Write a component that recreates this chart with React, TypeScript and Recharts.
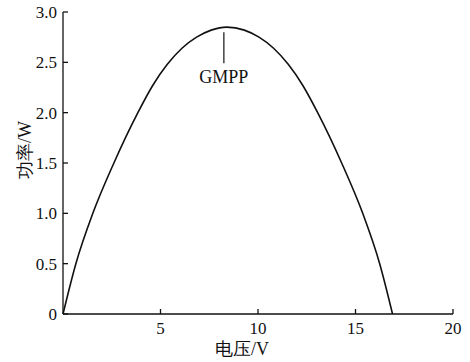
import React from "react"
import {
  LineChart,
  Line,
  XAxis,
  YAxis,
  ReferenceLine,
  Label,
} from "recharts"

// P-V curve
const voltage = [0, 0.66, 1.53, 2.61, 3.84, 4.6, 5.35, 6.1, 6.85, 7.6, 8.4, 9.3, 10.05, 10.8, 11.55, 12.3, 13.06, 14.29, 15.37, 16.24, 16.9]
const power = [0, 0.5, 1.0, 1.5, 2.0, 2.27, 2.48, 2.64, 2.75, 2.82, 2.85, 2.82, 2.75, 2.64, 2.48, 2.27, 2.0, 1.5, 1.0, 0.5, 0]

const xTicks = [5, 10, 15, 20]
const yTicks = [0, 0.5, 1.0, 1.5, 2.0, 2.5, 3.0]

// GMPP marker
const gmppV = 8.25
const gmppTop = 2.8
const gmppBottom = 2.49

const data = voltage.map((v, i) => ({ v, p: power[i] }))

const FONT = "'Liberation Serif', 'Times New Roman', serif"
const INK = "#111"

export default function App() {
  return (
    <div style={{ position: "absolute", left: 0, top: 0, background: "#fff" }}>
      <LineChart
        width={470}
        height={362}
        data={data}
        margin={{ top: 12, right: 17, left: 0, bottom: 0 }}
      >
        <XAxis
          dataKey="v"
          type="number"
          domain={[0, 20]}
          ticks={xTicks}
          height={48}
          stroke={INK}
          strokeWidth={1.3}
          tickSize={-5}
          tickMargin={13}
          tick={{ fill: INK, fontSize: 17, fontFamily: FONT }}
        >
          <Label
            content={({ viewBox }: any) => (
              <text
                x={viewBox.x + viewBox.width / 2 - 16}
                y={viewBox.y + 41}
                textAnchor="middle"
                fontSize={18}
                fontFamily={FONT}
                fill={INK}
              >
                电压/V
              </text>
            )}
          />
        </XAxis>
        <YAxis
          type="number"
          domain={[0, 3]}
          ticks={yTicks}
          width={63}
          stroke={INK}
          strokeWidth={1.3}
          tickSize={-5}
          tickMargin={11}
          tickFormatter={(t: number) => (t === 0 ? "0" : t.toFixed(1))}
          tick={{ fill: INK, fontSize: 17, fontFamily: FONT }}
        >
          <Label
            content={({ viewBox }: any) => {
              const cx = viewBox.x + 25
              const cy = viewBox.y + viewBox.height / 2 - 13
              return (
                <text
                  x={cx}
                  y={cy}
                  transform={`rotate(-90, ${cx}, ${cy})`}
                  textAnchor="middle"
                  dominantBaseline="central"
                  fontSize={18}
                  fontFamily={FONT}
                  fill={INK}
                >
                  功率/W
                </text>
              )
            }}
          />
        </YAxis>
        <ReferenceLine
          segment={[
            { x: gmppV, y: gmppTop },
            { x: gmppV, y: gmppBottom },
          ]}
          stroke={INK}
          strokeWidth={1.2}
          label={{
            value: "GMPP",
            position: "bottom",
            offset: 7,
            fill: INK,
            fontSize: 18,
            fontFamily: FONT,
          }}
        />
        <Line
          type="monotone"
          dataKey="p"
          stroke={INK}
          strokeWidth={1.6}
          dot={false}
          isAnimationActive={false}
        />
      </LineChart>
    </div>
  )
}
